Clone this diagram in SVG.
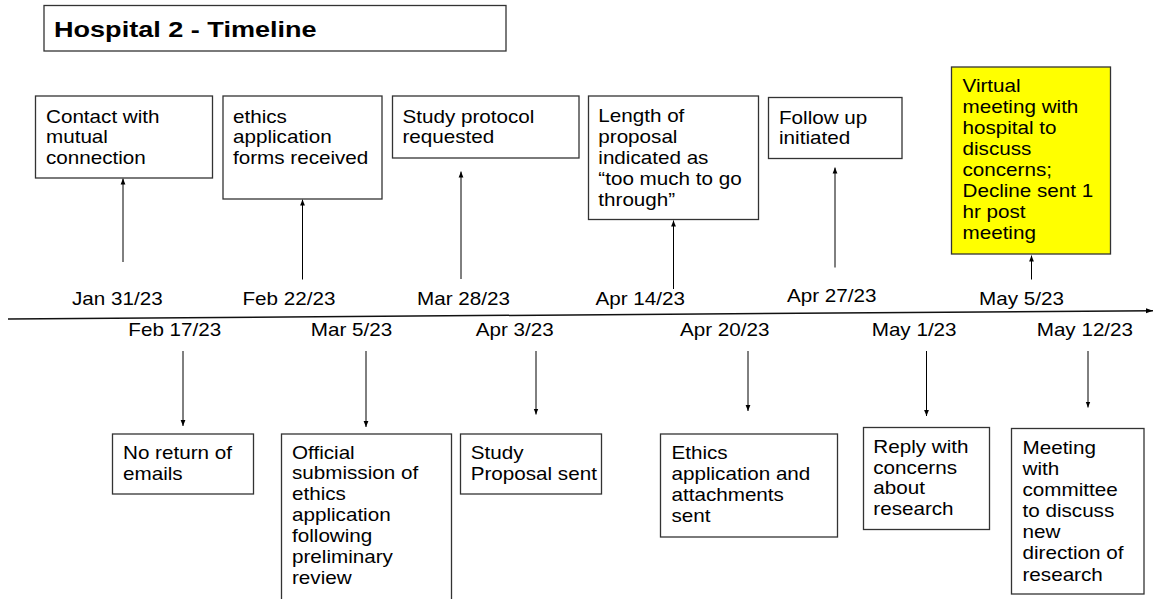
<svg xmlns="http://www.w3.org/2000/svg" width="1155" height="599" viewBox="0 0 1155 599">
<style>
  .box { fill: #ffffff; stroke: #333333; stroke-width: 1.3; }
  .hl { fill: #ffff00; stroke: #333333; stroke-width: 1.3; }
  .t { font-family: "Liberation Sans", Arial, sans-serif; font-size: 17.5px; fill: #000000; }
  .title { font-family: "Liberation Sans", Arial, sans-serif; font-size: 22px; font-weight: bold; fill: #000000; }
  .conn { stroke: #000000; stroke-width: 1; fill: none; marker-end: url(#ah); }
  .axis { stroke: #111111; stroke-width: 1.5; fill: none; marker-end: url(#ah2); }
</style>
<defs>
  <marker id="ah" markerUnits="userSpaceOnUse" markerWidth="6" markerHeight="6" viewBox="0 0 6 6" refX="6" refY="3" orient="auto">
    <path d="M0,0.6 L6,3 L0,5.4 Z" fill="#000000"/>
  </marker>
  <marker id="ah2" markerUnits="userSpaceOnUse" markerWidth="7" markerHeight="6" viewBox="0 0 7 6" refX="7" refY="3" orient="auto">
    <path d="M0,0.5 L7,3 L0,5.5 Z" fill="#000000"/>
  </marker>
</defs>

<g id="title">
  <rect class="box" x="44" y="5.5" width="462" height="45.5"/>
  <text class="title" transform="translate(54,37) scale(1.23,1)">Hospital 2 - Timeline</text>
</g>

<g id="connectors">
  <line class="axis" x1="8" y1="319" x2="1153" y2="310.7"/>
  <line class="conn" x1="123" y1="262" x2="123" y2="178.5"/>
  <line class="conn" x1="302.5" y1="279.5" x2="302.5" y2="199.5"/>
  <line class="conn" x1="461" y1="279" x2="461" y2="171.5"/>
  <line class="conn" x1="673.5" y1="289" x2="673.5" y2="220.5"/>
  <line class="conn" x1="835" y1="267.5" x2="835" y2="167.5"/>
  <line class="conn" x1="1031.5" y1="279.5" x2="1031.5" y2="255.5"/>
  <line class="conn" x1="183" y1="351" x2="183" y2="426"/>
  <line class="conn" x1="366" y1="351" x2="366" y2="427"/>
  <line class="conn" x1="536" y1="351" x2="536" y2="414.5"/>
  <line class="conn" x1="748" y1="351" x2="748" y2="411"/>
  <line class="conn" x1="926.5" y1="351" x2="926.5" y2="416"/>
  <line class="conn" x1="1088" y1="351" x2="1088" y2="407.5"/>
</g>

<g id="dates">
  <text class="t" transform="translate(72,305) scale(1.18,1)">Jan 31/23</text>
  <text class="t" transform="translate(242.5,305) scale(1.18,1)">Feb 22/23</text>
  <text class="t" transform="translate(417,305) scale(1.18,1)">Mar 28/23</text>
  <text class="t" transform="translate(595.5,304.5) scale(1.18,1)">Apr 14/23</text>
  <text class="t" transform="translate(787,302) scale(1.18,1)">Apr 27/23</text>
  <text class="t" transform="translate(979,305) scale(1.18,1)">May 5/23</text>
  <text class="t" transform="translate(128.3,336) scale(1.18,1)">Feb 17/23</text>
  <text class="t" transform="translate(310.8,336) scale(1.18,1)">Mar 5/23</text>
  <text class="t" transform="translate(475.7,336) scale(1.18,1)">Apr 3/23</text>
  <text class="t" transform="translate(680,336) scale(1.18,1)">Apr 20/23</text>
  <text class="t" transform="translate(871.7,336) scale(1.18,1)">May 1/23</text>
  <text class="t" transform="translate(1036.7,336) scale(1.18,1)">May 12/23</text>
</g>

<g id="n-jan31">
  <rect class="box" x="35.5" y="96" width="177" height="82"/>
  <text class="t" transform="translate(46,122.5) scale(1.18,1)"><tspan x="0" y="0">Contact with</tspan><tspan x="0" y="20.9">mutual</tspan><tspan x="0" y="41.8">connection</tspan></text>
</g>

<g id="n-feb22">
  <rect class="box" x="223" y="96" width="159" height="103"/>
  <text class="t" transform="translate(233,122.5) scale(1.18,1)"><tspan x="0" y="0">ethics</tspan><tspan x="0" y="20.9">application</tspan><tspan x="0" y="41.8">forms received</tspan></text>
</g>

<g id="n-mar28">
  <rect class="box" x="392.5" y="96" width="186.5" height="62"/>
  <text class="t" transform="translate(402.5,122.5) scale(1.18,1)"><tspan x="0" y="0">Study protocol</tspan><tspan x="0" y="20.9">requested</tspan></text>
</g>

<g id="n-apr14">
  <rect class="box" x="588.5" y="96" width="170" height="123.5"/>
  <text class="t" transform="translate(598.3,122.3) scale(1.18,1)"><tspan x="0" y="0">Length of</tspan><tspan x="0" y="20.9">proposal</tspan><tspan x="0" y="41.8">indicated as</tspan><tspan x="0" y="62.7">“too much to go</tspan><tspan x="0" y="83.6">through”</tspan></text>
</g>

<g id="n-apr27">
  <rect class="box" x="768.5" y="97.5" width="133.5" height="61"/>
  <text class="t" transform="translate(779,123.5) scale(1.18,1)"><tspan x="0" y="0">Follow up</tspan><tspan x="0" y="20.9">initiated</tspan></text>
</g>

<g id="n-may5">
  <rect class="hl" x="951.5" y="67" width="159" height="187"/>
  <text class="t" transform="translate(962.5,92.3) scale(1.18,1)"><tspan x="0" y="0">Virtual</tspan><tspan x="0" y="20.9">meeting with</tspan><tspan x="0" y="41.8">hospital to</tspan><tspan x="0" y="62.7">discuss</tspan><tspan x="0" y="83.6">concerns;</tspan><tspan x="0" y="104.5">Decline sent 1</tspan><tspan x="0" y="125.4">hr post</tspan><tspan x="0" y="146.3">meeting</tspan></text>
</g>

<g id="n-feb17">
  <rect class="box" x="112.5" y="434" width="141" height="60"/>
  <text class="t" transform="translate(123,459.3) scale(1.18,1)"><tspan x="0" y="0">No return of</tspan><tspan x="0" y="20.9">emails</tspan></text>
</g>

<g id="n-mar5">
  <rect class="box" x="281.5" y="434" width="170" height="175"/>
  <text class="t" transform="translate(292,458.5) scale(1.18,1)"><tspan x="0" y="0">Official</tspan><tspan x="0" y="21">submission of</tspan><tspan x="0" y="42">ethics</tspan><tspan x="0" y="63">application</tspan><tspan x="0" y="84">following</tspan><tspan x="0" y="105">preliminary</tspan><tspan x="0" y="126">review</tspan></text>
</g>

<g id="n-apr3">
  <rect class="box" x="460.5" y="434" width="141" height="60"/>
  <text class="t" transform="translate(470.7,459) scale(1.18,1)"><tspan x="0" y="0">Study</tspan><tspan x="0" y="20.9">Proposal sent</tspan></text>
</g>

<g id="n-apr20">
  <rect class="box" x="660.5" y="434" width="177" height="103"/>
  <text class="t" transform="translate(671.5,459.3) scale(1.18,1)"><tspan x="0" y="0">Ethics</tspan><tspan x="0" y="20.9">application and</tspan><tspan x="0" y="41.8">attachments</tspan><tspan x="0" y="62.7">sent</tspan></text>
</g>

<g id="n-may1">
  <rect class="box" x="863.5" y="427.5" width="126" height="102"/>
  <text class="t" transform="translate(873.3,452.7) scale(1.18,1)"><tspan x="0" y="0">Reply with</tspan><tspan x="0" y="20.9">concerns</tspan><tspan x="0" y="41.8">about</tspan><tspan x="0" y="62.7">research</tspan></text>
</g>

<g id="n-may12">
  <rect class="box" x="1011.5" y="428.5" width="132.5" height="165.5"/>
  <text class="t" transform="translate(1022.5,454) scale(1.18,1)"><tspan x="0" y="0">Meeting</tspan><tspan x="0" y="21.1">with</tspan><tspan x="0" y="42.2">committee</tspan><tspan x="0" y="63.3">to discuss</tspan><tspan x="0" y="84.4">new</tspan><tspan x="0" y="105.5">direction of</tspan><tspan x="0" y="126.6">research</tspan></text>
</g>
</svg>
